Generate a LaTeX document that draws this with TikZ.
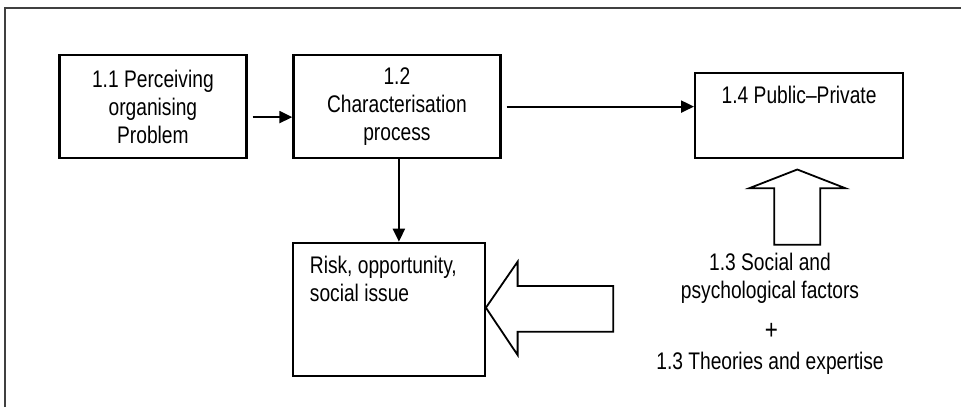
\documentclass[tikz,border=0pt]{standalone}
\usepackage{fontspec}
\setmainfont{Liberation Sans}[FakeStretch=0.8]
\usetikzlibrary{arrows.meta,calc}
\begin{document}
\begin{tikzpicture}[x=1pt,y=-1pt,
  every node/.style={font=\fontsize{24}{28}\selectfont},
  box/.style={draw, line width=2.2pt, inner sep=0pt, anchor=north west},
  conn/.style={line width=2.2pt, -{Triangle[length=13pt,width=12pt]}},
  blockarrow/.style={draw, line width=1.8pt, fill=white, line join=miter},
  txt/.style={inner sep=0pt, align=center}]
\useasboundingbox (0,0) rectangle (961,407);

% outer frame
\draw[line width=2pt, black!75] (4.5,407) -- (4.5,8) -- (961,8);

% boxes
\node[box, minimum width=187pt, minimum height=103pt, align=center] (b11) at (58.3,54)
  {1.1 Perceiving\\organising\\Problem};
\node[box, minimum width=207pt, minimum height=103pt, align=center] (b12) at (292.3,54)
  {1.2\\Characterisation\\process};
\node[box, minimum width=208pt, minimum height=85pt] (b14) at (694,72) {};
\node[txt, anchor=north] (t14) at ($(b14.north)+(0,14)$) {1.4 Public–Private};
\node[box, minimum width=192pt, minimum height=133pt] (risk) at (291.7,241.7) {};
\node[inner sep=0pt, align=left, anchor=north west] (trisk) at ($(risk.north west)+(18,14)$)
  {Risk, opportunity,\\social issue};

% factor texts
\node[txt] (fac) at (770,278.5) {1.3 Social and\\psychological factors};
\node[txt, font=\fontsize{28}{28}\selectfont] (plus) at (771.5,331) {+};
\node[txt] (theo) at (770,363) {1.3 Theories and expertise};

% connectors
\draw[conn] ($(b11.east)+(5,10.5)$) -- ($(b12.west)+(0,10.5)$);
\draw[conn] ($(b12.east)+(5,0)$) -- (b14.west |- b12.east);
\draw[conn] ($(b12.south)+(2,0)$) -- ($(b12.south |- risk.north)+(2,0)$);

% block arrow pointing up at the public-private box
\coordinate (uptip) at ($(b14.south)+(-1.8,10.3)$);
\draw[blockarrow] (uptip) -- ++(48,18.7) -- ++(-25,0) -- ++(0,56.6) -- ++(-46,0)
  -- ++(0,-56.6) -- ++(-25,0) -- cycle;

% block arrow pointing left at the risk box
\coordinate (lefttip) at ($(risk.north east)+(0,66)$);
\draw[blockarrow] (lefttip) -- ++(31.7,-46) -- ++(0,24.3) -- ++(95.7,0) -- ++(0,45.7)
  -- ++(-95.7,0) -- ++(0,23.3) -- cycle;
\end{tikzpicture}
\end{document}
